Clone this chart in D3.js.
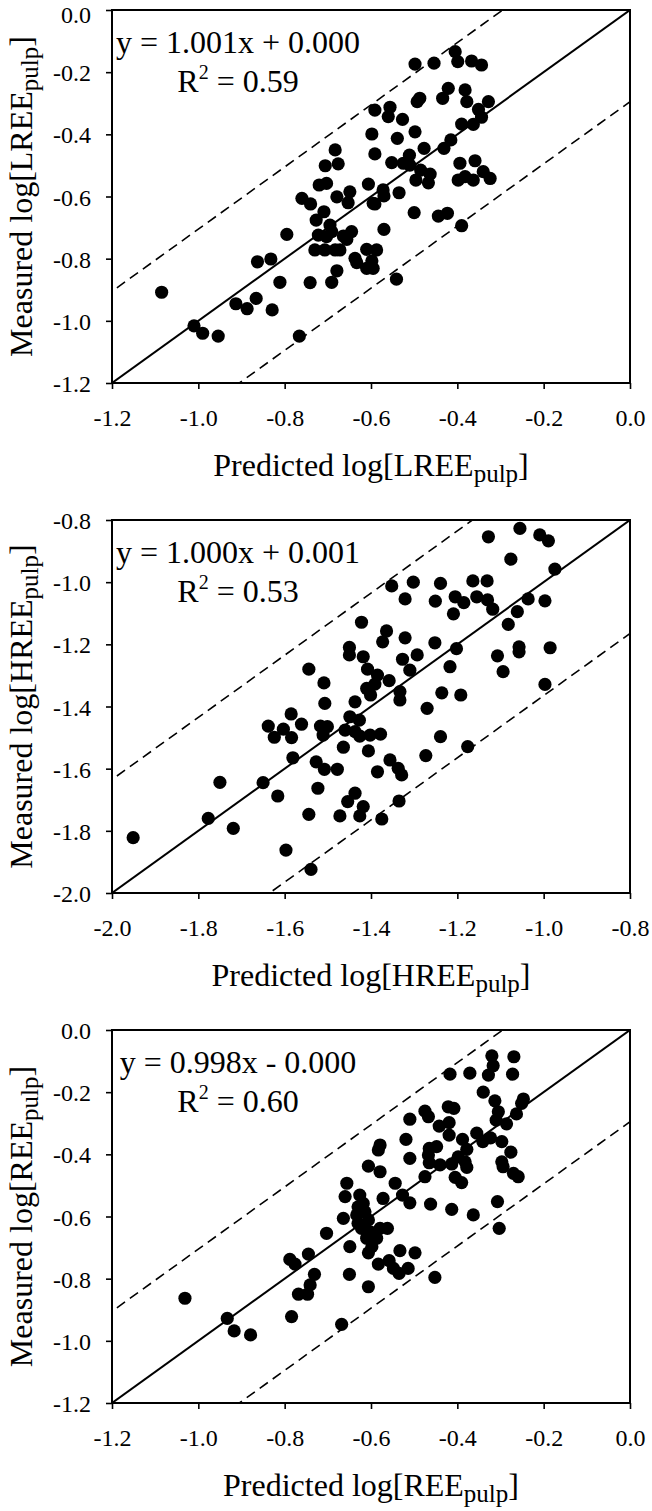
<!DOCTYPE html>
<html><head><meta charset="utf-8">
<script src="https://cdn.jsdelivr.net/npm/d3@7"></script>
<style>
body{margin:0;background:#fff}
svg{display:block}
text{font-family:"Liberation Serif","Times New Roman",serif;fill:#000}
</style>
</head><body>
<svg id="chart" width="652" height="1511"></svg>
<script>
// ---------- Panel 1: LREE ----------
const lreePred = [-1.085,-1.010,-0.990,-0.954,-0.913,-0.887,-0.866,-0.863,-0.832,-0.829,-0.811,-0.795,-0.766,-0.741,-0.760,-0.740,-0.720,-0.703,-0.709,-0.727,-0.695,-0.691,-0.722,-0.703,-0.730,-0.707,-0.683,-0.672,-0.664,-0.645,-0.656,-0.637,-0.633,-0.610,-0.598,-0.610,-0.587,-0.679,-0.691,-0.570,-0.679,-0.649,-0.653,-0.606,-0.595,-0.676,-0.683,-0.706,-0.591,-0.598,-0.591,-0.556,-0.560,-0.527,-0.539,-0.498,-0.477,-0.572,-0.535,-0.552,-0.525,-0.511,-0.510,-0.485,-0.463,-0.467,-0.496,-0.498,-0.454,-0.405,-0.399,-0.367,-0.344,-0.487,-0.493,-0.421,-0.434,-0.382,-0.378,-0.328,-0.351,-0.344,-0.363,-0.390,-0.415,-0.431,-0.394,-0.359,-0.398,-0.363,-0.340,-0.324,-0.382,-0.570,-0.591,-0.500,-0.444,-0.423,-0.390,-0.595,-0.541];
const lreeMeas = [-0.908,-1.016,-1.040,-1.049,-0.945,-0.961,-0.928,-0.810,-0.801,-0.965,-0.876,-0.722,-1.049,-0.877,-0.606,-0.624,-0.563,-0.558,-0.649,-0.676,-0.692,-0.713,-0.724,-0.729,-0.772,-0.772,-0.772,-0.772,-0.727,-0.713,-0.738,-0.799,-0.813,-0.831,-0.807,-0.770,-0.772,-0.839,-0.876,-0.706,-0.601,-0.585,-0.620,-0.560,-0.622,-0.495,-0.450,-0.501,-0.322,-0.399,-0.463,-0.313,-0.343,-0.352,-0.413,-0.392,-0.445,-0.579,-0.588,-0.491,-0.493,-0.467,-0.499,-0.515,-0.528,-0.556,-0.547,-0.174,-0.171,-0.134,-0.166,-0.164,-0.177,-0.284,-0.295,-0.252,-0.284,-0.257,-0.295,-0.295,-0.320,-0.345,-0.368,-0.367,-0.418,-0.445,-0.493,-0.485,-0.547,-0.547,-0.520,-0.542,-0.536,-0.598,-0.624,-0.652,-0.663,-0.654,-0.694,-0.831,-0.866];

// ---------- Panel 2: HREE ----------
const hreePred = [-1.951,-1.750,-1.777,-1.719,-1.650,-1.616,-1.597,-1.544,-1.509,-1.507,-1.585,-1.638,-1.603,-1.561,-1.624,-1.584,-1.517,-1.511,-1.581,-1.527,-1.508,-1.523,-1.544,-1.539,-1.352,-1.302,-1.321,-1.239,-1.251,-1.205,-1.185,-1.164,-1.155,-1.209,-1.422,-1.364,-1.373,-1.321,-1.252,-1.202,-1.450,-1.450,-1.418,-1.327,-1.293,-1.310,-1.217,-1.408,-1.385,-1.358,-1.391,-1.410,-1.401,-1.333,-1.333,-1.236,-1.192,-1.437,-1.270,-1.501,-1.449,-1.427,-1.460,-1.437,-1.426,-1.402,-1.378,-1.464,-1.406,-1.239,-1.273,-1.176,-1.478,-1.385,-1.356,-1.337,-1.329,-1.437,-1.454,-1.418,-1.426,-1.335,-1.375,-1.472,-1.128,-1.055,-1.009,-0.989,-1.076,-0.974,-1.131,-1.130,-1.118,-1.036,-0.997,-1.061,-1.082,-1.107,-1.094,-1.057,-1.057,-0.985,-0.997];
const hreeMeas = [-1.822,-1.644,-1.760,-1.792,-1.645,-1.688,-1.862,-1.280,-1.324,-1.390,-1.424,-1.463,-1.473,-1.457,-1.499,-1.500,-1.463,-1.492,-1.565,-1.578,-1.602,-1.663,-1.747,-1.924,-1.012,-1.000,-1.054,-1.004,-1.061,-1.047,-1.066,-0.996,-1.047,-1.102,-1.129,-1.157,-1.192,-1.179,-1.195,-1.214,-1.210,-1.234,-1.240,-1.248,-1.234,-1.283,-1.272,-1.280,-1.299,-1.317,-1.328,-1.342,-1.363,-1.352,-1.379,-1.356,-1.363,-1.385,-1.406,-1.465,-1.433,-1.444,-1.476,-1.481,-1.495,-1.492,-1.489,-1.531,-1.543,-1.497,-1.558,-1.529,-1.602,-1.610,-1.572,-1.599,-1.620,-1.679,-1.706,-1.722,-1.752,-1.704,-1.762,-1.752,-0.854,-0.827,-0.848,-0.867,-0.926,-0.958,-0.996,-1.057,-1.087,-1.054,-1.060,-1.095,-1.136,-1.237,-1.288,-1.208,-1.224,-1.211,-1.329];

// ---------- Panel 3: REE ----------
const reePred = [-1.031,-0.933,-0.917,-0.879,-0.784,-0.788,-0.776,-0.745,-0.731,-0.741,-0.768,-0.747,-0.703,-0.417,-0.371,-0.475,-0.467,-0.421,-0.408,-0.510,-0.442,-0.419,-0.419,-0.355,-0.519,-0.579,-0.583,-0.465,-0.448,-0.467,-0.465,-0.388,-0.378,-0.398,-0.413,-0.440,-0.378,-0.405,-0.390,-0.510,-0.606,-0.579,-0.475,-0.544,-0.656,-0.660,-0.626,-0.618,-0.630,-0.572,-0.527,-0.510,-0.462,-0.413,-0.363,-0.664,-0.633,-0.614,-0.606,-0.630,-0.622,-0.602,-0.579,-0.562,-0.610,-0.587,-0.649,-0.598,-0.606,-0.533,-0.498,-0.583,-0.558,-0.548,-0.535,-0.514,-0.650,-0.606,-0.452,-0.668,-0.320,-0.317,-0.269,-0.272,-0.328,-0.340,-0.313,-0.247,-0.251,-0.305,-0.263,-0.310,-0.286,-0.341,-0.323,-0.297,-0.276,-0.297,-0.294,-0.270,-0.259,-0.382,-0.307,-0.303];
const reeMeas = [-0.863,-0.928,-0.968,-0.981,-0.922,-0.738,-0.753,-0.721,-0.786,-0.820,-0.850,-0.850,-0.654,-0.142,-0.139,-0.261,-0.279,-0.247,-0.252,-0.287,-0.309,-0.298,-0.338,-0.332,-0.352,-0.370,-0.386,-0.381,-0.375,-0.402,-0.427,-0.352,-0.384,-0.408,-0.431,-0.434,-0.442,-0.474,-0.491,-0.413,-0.438,-0.456,-0.472,-0.493,-0.493,-0.536,-0.531,-0.558,-0.569,-0.542,-0.531,-0.556,-0.560,-0.577,-0.595,-0.606,-0.595,-0.585,-0.611,-0.622,-0.638,-0.649,-0.638,-0.638,-0.670,-0.670,-0.697,-0.697,-0.717,-0.710,-0.717,-0.753,-0.742,-0.767,-0.783,-0.767,-0.786,-0.826,-0.796,-0.947,-0.083,-0.115,-0.086,-0.142,-0.145,-0.200,-0.228,-0.222,-0.236,-0.263,-0.270,-0.290,-0.302,-0.359,-0.347,-0.359,-0.393,-0.424,-0.440,-0.461,-0.472,-0.424,-0.552,-0.638];

// ---------- Axes, tick labels, annotations ----------
const ticksLREE = [-1.2,-1.0,-0.8,-0.6,-0.4,-0.2,0.0];
const ticksHREE = [-2.0,-1.8,-1.6,-1.4,-1.2,-1.0,-0.8];
const ticksREE  = [-1.2,-1.0,-0.8,-0.6,-0.4,-0.2,0.0];
const elements  = ["LREE","HREE","REE"];
const equations = ["y = 1.001x + 0.000","y = 1.000x + 0.001","y = 0.998x - 0.000"];
const r2Values  = ["0.59","0.53","0.60"];
const bandHalfWidths = [0.295, 0.365, 0.295];

const panels = [
  {px: lreePred, my: lreeMeas, ticks: ticksLREE},
  {px: hreePred, my: hreeMeas, ticks: ticksHREE},
  {px: reePred,  my: reeMeas,  ticks: ticksREE}
].map((p,i)=>Object.assign(p,{el:elements[i],eq:equations[i],r2:r2Values[i],band:bandHalfWidths[i]}));

const FONT = "Liberation Serif";
const svg = d3.select("#chart");
const L = 112, R = 630, H = 373, tops = [10, 520, 1030];
const fmt = d => d.toFixed(1);

panels.forEach((p,i)=>{
  const top = tops[i];
  const dom = [p.ticks[0], p.ticks[p.ticks.length-1]];
  const x = d3.scaleLinear().domain(dom).range([L,R]);
  const y = d3.scaleLinear().domain(dom).range([top+H, top]);
  const g = svg.append("g").attr("font-family",FONT);

  const clipId = "clip"+i;
  svg.append("clipPath").attr("id",clipId).append("rect")
    .attr("x",L).attr("y",top).attr("width",R-L).attr("height",H);

  const lines = g.append("g").attr("clip-path",`url(#${clipId})`);
  const lo = dom[0]-0.5, hi = dom[1]+0.5;
  lines.append("line").attr("x1",x(lo)).attr("y1",y(lo)).attr("x2",x(hi)).attr("y2",y(hi))
    .attr("stroke","#000").attr("stroke-width",2);
  [p.band,-p.band].forEach(o=>{
    lines.append("line").attr("x1",x(lo)).attr("y1",y(lo+o)).attr("x2",x(hi)).attr("y2",y(hi+o))
      .attr("stroke","#000").attr("stroke-width",1.6).attr("stroke-dasharray","10,6");
  });

  g.append("g").selectAll("circle").data(d3.range(p.px.length)).join("circle")
    .attr("cx",k=>x(p.px[k])).attr("cy",k=>y(p.my[k])).attr("r",6.6).attr("fill","#000");

  const xa = g.append("g").attr("transform",`translate(0,${top+H})`)
    .call(d3.axisBottom(x).tickValues(p.ticks).tickFormat(fmt).tickSize(6).tickPadding(20));
  const ya = g.append("g").attr("transform",`translate(${L},0)`)
    .call(d3.axisLeft(y).tickValues(p.ticks).tickFormat(fmt).tickSize(6).tickPadding(15));
  [xa,ya].forEach(a=>{
    a.attr("font-family",FONT).attr("font-size",24);
    a.select(".domain").remove();
    a.selectAll("line").attr("stroke","#000").attr("stroke-width",1.6);
    a.selectAll("text").attr("font-family",FONT).attr("font-size",24).attr("fill","#000");
  });
  ya.selectAll("text").attr("dy","0.36em");
  // keep the very top tick label inside the page
  if (i === 0) ya.selectAll("text").filter(d => d === dom[1]).attr("dy","0.5em");

  g.append("rect").attr("x",L).attr("y",top).attr("width",R-L).attr("height",H)
    .attr("fill","none").attr("stroke","#000").attr("stroke-width",2);

  g.append("text").attr("x",238).attr("y",top+43).attr("text-anchor","middle")
    .attr("font-size",32).text(p.eq);
  const r2 = g.append("text").attr("x",238).attr("y",top+82).attr("text-anchor","middle").attr("font-size",32);
  r2.append("tspan").text("R");
  r2.append("tspan").attr("font-size",20).attr("dy",-13).text("2");
  r2.append("tspan").attr("dy",13).text(" = "+p.r2);

  const xt = g.append("text").attr("x",(L+R)/2).attr("y",top+H+93).attr("text-anchor","middle").attr("font-size",32);
  xt.append("tspan").text(`Predicted log[${p.el}`);
  xt.append("tspan").attr("font-size",25).attr("dy",6).text("pulp");
  xt.append("tspan").attr("dy",-6).text("]");

  const yt = g.append("text").attr("transform",`translate(32,${top+H/2}) rotate(-90)`)
    .attr("text-anchor","middle").attr("font-size",32);
  yt.append("tspan").text(`Measured log[${p.el}`);
  yt.append("tspan").attr("font-size",25).attr("dy",6).text("pulp");
  yt.append("tspan").attr("dy",-6).text("]");
});
</script>
</body></html>
